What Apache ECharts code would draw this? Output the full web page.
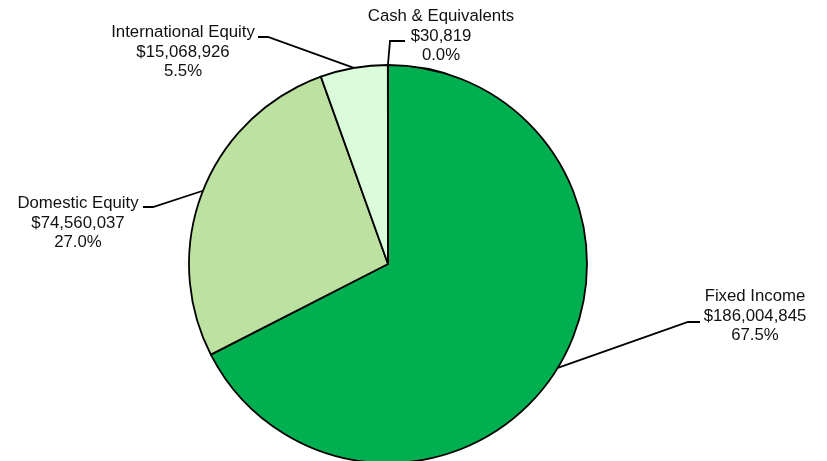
<!DOCTYPE html>
<html>
<head>
<meta charset="utf-8">
<script src="https://cdn.jsdelivr.net/npm/echarts@6/dist/echarts.min.js"></script>
<style>
  html, body { margin: 0; padding: 0; background: #ffffff; }
  #chart { width: 827px; height: 461px; }
</style>
</head>
<body>
<div id="chart"></div>
<script>
// Asset allocation
const categories = ['Fixed Income', 'Domestic Equity', 'International Equity', 'Cash & Equivalents'];
const marketValues = [186004845, 74560037, 15068926, 30819];
const sliceColors = ['#00B050', '#BDE1A0', '#DAFCDA', '#F2FFF2'];

// label anchor (text centre) and leader-line elbow/end per slice
const labelSpots = [
  { x: 755, y: 316, elbow: [688, 322], end: [700, 322] },
  { x: 78,  y: 223, elbow: [153, 207], end: [143, 207] },
  { x: 183, y: 52,  elbow: [268, 37],  end: [258, 37] },
  { x: 441, y: 36,  elbow: [390, 41],  end: [405, 41] }
];

const chart = echarts.init(document.getElementById('chart'), null, { renderer: 'canvas' });

const money = v => '$' + v.toLocaleString('en-US');

chart.setOption({
  animation: false,
  backgroundColor: '#ffffff',
  series: [{
    type: 'pie',
    center: [388, 264],
    radius: 199,
    startAngle: 90,
    clockwise: true,
    minAngle: 0,
    percentPrecision: 1,
    avoidLabelOverlap: false,
    data: categories.map((name, i) => ({
      name: name,
      value: marketValues[i],
      itemStyle: { color: sliceColors[i] }
    })),
    itemStyle: { borderColor: '#000000', borderWidth: 1.8 },
    label: {
      show: true,
      position: 'outside',
      fontFamily: 'Liberation Sans, Arial, sans-serif',
      fontSize: 16.8,
      lineHeight: 19.5,
      color: '#111111',
      align: 'center',
      formatter: p => p.name + '\n' + money(p.value) + '\n' + p.percent.toFixed(1) + '%'
    },
    labelLine: {
      show: true,
      length: 10,
      length2: 10,
      smooth: false,
      lineStyle: { color: '#000000', width: 1.8 }
    },
    labelLayout: function (params) {
      const s = labelSpots[params.dataIndex];
      const start = params.labelLinePoints ? params.labelLinePoints[0] : s.elbow;
      return {
        x: s.x,
        y: s.y,
        align: 'center',
        verticalAlign: 'middle',
        labelLinePoints: [start, s.elbow, s.end]
      };
    },
    emphasis: { disabled: true }
  }]
});
</script>
</body>
</html>
